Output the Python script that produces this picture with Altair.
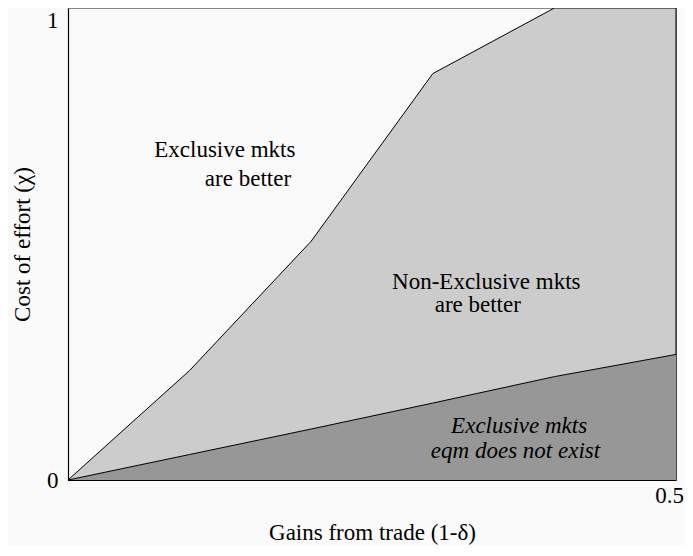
import altair as alt
import pandas as pd

gains = [0.0, 0.1, 0.2, 0.3, 0.4, 0.5]
upper = [0.0, 0.232, 0.506, 0.861, 1.0, 1.0]
lower = [0.0, 0.054, 0.108, 0.163, 0.219, 0.266]

label_text = ["Exclusive mkts", "are better", "Non-Exclusive mkts", "are better",
              "Exclusive mkts", "eqm does not exist"]
label_x = [0.129, 0.148, 0.344, 0.337, 0.371, 0.368]
label_y = [0.70, 0.638, 0.42, 0.371, 0.115, 0.062]
label_style = ["normal", "normal", "normal", "normal", "italic", "italic"]

FONT = "Liberation Serif"
FS = 23

df = pd.DataFrame({"g": gains, "u": upper, "l": lower})
lab = pd.DataFrame({"t": label_text, "x": label_x, "y": label_y, "s": label_style})

xs = alt.Scale(domain=[0, 0.5], nice=False, zero=False)
ys = alt.Scale(domain=[0, 1], nice=False)

xax = alt.Axis(values=[0.5], format=".1f", title="Gains from trade (1-δ)", ticks=False,
               grid=False, domainColor="black", domainWidth=1.2, labelFont=FONT,
               labelFontSize=FS, labelColor="black", labelAlign="center", labelBaseline="middle",
               labelPadding=15, labelFlush=False, labelOffset=-7,
               titleFont=FONT, titleFontSize=FS, titleFontWeight="normal", titleColor="black",
               titleY=52, titleBaseline="middle")
yax = alt.Axis(values=[0, 1], format="d", title="Cost of effort (χ)", ticks=False,
               grid=False, domainColor="black", domainWidth=1.2, labelFont=FONT,
               labelFontSize=FS, labelColor="black", labelPadding=10,
               labelBaseline=alt.ExprRef("datum.value == 1 ? 'top' : 'middle'"),
               labelFlush=False, labelOffset=alt.ExprRef("datum.value == 1 ? 1 : 0"),
               titleFont=FONT, titleFontSize=FS, titleFontWeight="normal", titleColor="black",
               titleX=-46, titleY=236, titleBaseline="middle", titleAngle=270)

base = alt.Chart(df)
up_area = base.mark_area(color="#cccccc", stroke="black", strokeWidth=1).encode(
    x=alt.X("g:Q", scale=xs, axis=xax), y=alt.Y("u:Q", scale=ys, axis=yax))
lo_area = base.mark_area(color="#979797").encode(x=alt.X("g:Q", scale=xs), y=alt.Y("l:Q", scale=ys))
lo_line = base.mark_line(color="black", strokeWidth=1).encode(x=alt.X("g:Q", scale=xs), y=alt.Y("l:Q", scale=ys))

def text_layer(style):
    return alt.Chart(lab).transform_filter(alt.datum.s == style).mark_text(
        font=FONT, fontSize=FS, color="black", align="center", baseline="middle",
        fontStyle=style).encode(
        x=alt.X("x:Q", scale=xs), y=alt.Y("y:Q", scale=ys), text="t:N")

chart = alt.layer(up_area, lo_area, lo_line, text_layer("normal"), text_layer("italic")).properties(
    width=608, height=472, background="#fafafa",
    autosize=alt.AutoSizeParams(type="none"),
    padding={"left": 60, "top": 0, "right": 9, "bottom": 65},
).configure_view(stroke="#888888", strokeWidth=1)

chart.save("out.html", embed_options={"renderer": "svg", "actions": False})
